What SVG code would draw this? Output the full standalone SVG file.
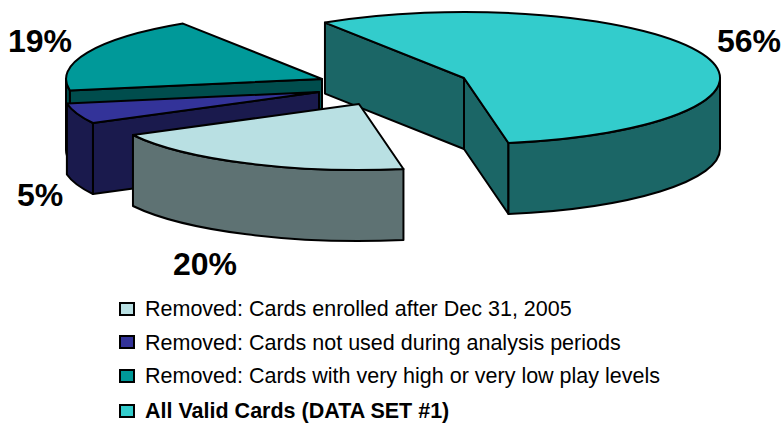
<svg xmlns="http://www.w3.org/2000/svg" width="783" height="423" viewBox="0 0 783 423">
<style>
.e{stroke:#000;stroke-width:2;stroke-linejoin:round}
.lbl{font-family:"Liberation Sans",Arial,sans-serif;font-weight:bold;font-size:32px;fill:#000}
.lg{font-family:"Liberation Sans",Arial,sans-serif;font-size:21.5px;fill:#000}
.sq{stroke:#000;stroke-width:2}
</style>
<rect width="783" height="423" fill="#fff"/>
<g id="slice-teal">
<path class="e" fill="#004D4D" d="M322,79 L69.89,90.46 L69.89,161.46 L322,150 Z"/>
<path class="e" fill="#004D4D" d="M69.89,90.46 A256,66 0 0 1 66,79 L66,150 A256,66 0 0 0 69.89,161.46 Z"/>
<path class="e" fill="#009999" d="M322,79 L69.89,90.46 A256,66 0 0 1 182.95,23.59 Z"/>
</g>
<g id="slice-cyan">
<path class="e" fill="#1B6666" d="M464,78 L324.95,22.59 L324.95,93.59 L464,149 Z"/>
<path class="e" fill="#1B6666" d="M464,78 L508.45,143 L508.45,214 L464,149 Z"/>
<path class="e" fill="#1B6666" d="M720,78 A256,66 0 0 1 508.45,143 L508.45,214 A256,66 0 0 0 720,149 Z"/>
<path class="e" fill="#33CCCC" d="M464,78 L324.95,22.59 A256,66 0 1 1 508.45,143 Z"/>
</g>
<g id="slice-blue">
<path class="e" fill="#1A1A4D" d="M319,92 L92.96,122.99 L92.96,193.99 L319,163 Z"/>
<path class="e" fill="#1A1A4D" d="M92.96,122.99 A256,66 0 0 1 66.89,103.46 L66.89,174.46 A256,66 0 0 0 92.96,193.99 Z"/>
<path class="e" fill="#333399" d="M319,92 L92.96,122.99 A256,66 0 0 1 66.89,103.46 Z"/>
</g>
<g id="slice-light">
<path class="e" fill="#5E7273" d="M403.45,169 A256,66 0 0 1 132.96,134.99 L132.96,205.99 A256,66 0 0 0 403.45,240 Z"/>
<path class="e" fill="#B9E0E3" d="M359,104 L403.45,169 A256,66 0 0 1 132.96,134.99 Z"/>
</g>
<g id="connectors"></g>
<g id="labels">
<text class="lbl" x="8" y="51.5">19%</text>
<text class="lbl" x="717" y="52">56%</text>
<text class="lbl" x="17" y="205.5">5%</text>
<text class="lbl" x="173" y="275">20%</text>
</g>
<g id="legend">
<rect class="sq" x="120" y="303" width="14" height="12" fill="#B9E0E3"/>
<text class="lg" x="145" y="316">Removed: Cards enrolled after Dec 31, 2005</text>
<rect class="sq" x="120" y="336" width="14" height="12" fill="#333399"/>
<text class="lg" x="145" y="349.5">Removed: Cards not used during analysis periods</text>
<rect class="sq" x="120" y="370" width="14" height="12" fill="#009999"/>
<text class="lg" x="145" y="383">Removed: Cards with very high or very low play levels</text>
<rect class="sq" x="120" y="405" width="14" height="12" fill="#33CCCC"/>
<text class="lg" x="145" y="418" font-weight="bold">All Valid Cards (DATA SET #1)</text>
</g>
</svg>
